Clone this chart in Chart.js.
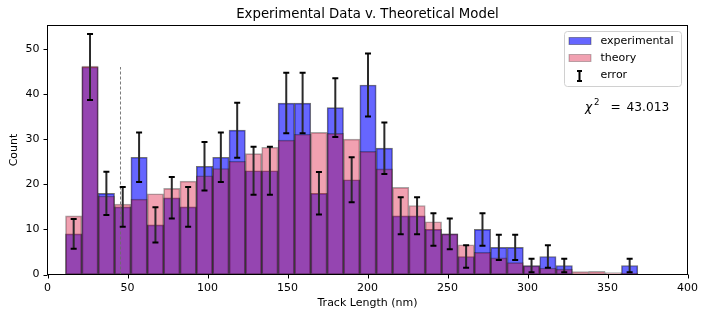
<!DOCTYPE html>
<html><head><meta charset="utf-8">
<script src="https://cdn.jsdelivr.net/npm/chart.js@4.4.0/dist/chart.umd.min.js"></script>
<style>html,body{margin:0;padding:0;background:#fff;overflow:hidden;} #wrap{width:705px;height:318px;}</style>
</head><body><div id="wrap"><canvas id="c" width="705" height="318"></canvas></div>
<script>
// ---- data ----
const binCenters = [16.36, 26.58, 36.80, 47.02, 57.24, 67.46, 77.68, 87.90, 98.12, 108.34,
  118.56, 128.78, 139.00, 149.22, 159.44, 169.66, 179.88, 190.10, 200.32, 210.54,
  220.76, 230.98, 241.20, 251.42, 261.64, 271.86, 282.08, 292.30, 302.52, 312.74,
  322.96, 333.18, 343.40, 353.62, 363.84];
const experimental = [9, 46, 18, 15, 26, 11, 17, 15, 24, 26,
  32, 23, 23, 38, 38, 18, 37, 21, 42, 28,
  13, 13, 10, 9, 4, 10, 6, 6, 2, 4,
  2, 0, 0, 0, 2];
const theory = [13.0, 46.2, 17.4, 15.6, 16.7, 17.9, 19.1, 20.7, 21.9, 23.5,
  25.1, 26.8, 28.2, 29.8, 31.1, 31.5, 31.3, 30.0, 27.3, 23.4,
  19.3, 15.3, 11.7, 9.0, 6.6, 4.9, 3.7, 2.65, 1.9, 1.45,
  1.2, 0.65, 0.7, 0.45, 0.3];
const errors = [3.3, 7.3, 4.8, 4.4, 5.5, 3.9, 4.6, 4.4, 5.4, 5.5,
  6.1, 5.3, 5.3, 6.7, 6.7, 4.7, 6.5, 5.0, 7.0, 5.7,
  4.1, 4.1, 3.6, 3.4, 2.5, 3.6, 2.8, 2.8, 1.5, 2.5,
  1.5, 0, 0, 0, 1.5];
const xTicks = [0, 50, 100, 150, 200, 250, 300, 350, 400];
const yTicks = [0, 10, 20, 30, 40, 50];
const cutoffX = 45;
const cutoffHeight = 46;
const chiSquaredText = "43.013";
const titleText = "Experimental Data v. Theoretical Model";

// ---- chart ----
const FONT = "'DejaVu Sans', sans-serif";
Chart.defaults.font.family = FONT;
Chart.defaults.font.size = 11;
Chart.defaults.color = '#000';

const overlay = {
  id: 'overlay',
  afterDatasetsDraw(chart) {
    const ctx = chart.ctx;
    const xs = chart.scales.x, ys = chart.scales.y;
    const area = chart.chartArea;
    ctx.save();
    // dashed cutoff line
    ctx.strokeStyle = 'rgba(110,110,110,0.9)';
    ctx.lineWidth = 1;
    ctx.setLineDash([3, 2]);
    const cx = Math.round(xs.getPixelForValue(cutoffX)) + 0.5;
    ctx.beginPath();
    ctx.moveTo(cx, ys.getPixelForValue(0));
    ctx.lineTo(cx, ys.getPixelForValue(cutoffHeight));
    ctx.stroke();
    ctx.setLineDash([]);
    // error bars
    for (let i = 0; i < binCenters.length; i++) {
      const e = errors[i];
      if (!e) continue;
      const x = xs.getPixelForValue(binCenters[i]);
      const yt = ys.getPixelForValue(experimental[i] + e);
      const yb = ys.getPixelForValue(Math.max(0, experimental[i] - e));
      ctx.strokeStyle = '#2a2a2a';
      ctx.lineWidth = 2;
      ctx.beginPath(); ctx.moveTo(x, yt); ctx.lineTo(x, yb); ctx.stroke();
      ctx.strokeStyle = '#000';
      ctx.lineWidth = 2;
      ctx.beginPath();
      ctx.moveTo(x - 3, yt); ctx.lineTo(x + 3, yt);
      ctx.moveTo(x - 3, yb); ctx.lineTo(x + 3, yb);
      ctx.stroke();
    }
    // frame
    ctx.strokeStyle = '#000';
    ctx.lineWidth = 1;
    ctx.strokeRect(area.left, area.top, area.right - area.left, area.bottom - area.top);
    // tick marks
    ctx.beginPath();
    xTicks.forEach(v => {
      const px = Math.round(xs.getPixelForValue(v)) + 0.5;
      ctx.moveTo(px, area.bottom); ctx.lineTo(px, area.bottom + 4);
    });
    yTicks.forEach(v => {
      const py = Math.round(ys.getPixelForValue(v)) + 0.5;
      ctx.moveTo(area.left - 4, py); ctx.lineTo(area.left, py);
    });
    ctx.stroke();
    // title
    ctx.fillStyle = '#000';
    ctx.font = "13.3px " + FONT;
    ctx.textAlign = 'center';
    ctx.textBaseline = 'middle';
    ctx.fillText(titleText, (area.left + area.right) / 2, 15);
    // legend
    ctx.beginPath();
    ctx.roundRect(564.5, 31.5, 117, 55, 3);
    ctx.fillStyle = 'rgba(255,255,255,0.8)';
    ctx.fill();
    ctx.strokeStyle = '#d0d0d0';
    ctx.stroke();
    ctx.fillStyle = 'rgba(0,0,255,0.6)';
    ctx.fillRect(569, 37.5, 22, 7);
    ctx.strokeStyle = 'rgba(0,0,0,0.35)';
    ctx.strokeRect(569, 37.5, 22, 7);
    ctx.fillStyle = 'rgba(220,20,60,0.4)';
    ctx.fillRect(569, 54.5, 22, 7);
    ctx.strokeStyle = 'rgba(0,0,0,0.25)';
    ctx.strokeRect(569, 54.5, 22, 7);
    ctx.strokeStyle = '#000';
    ctx.lineWidth = 2;
    ctx.beginPath();
    ctx.moveTo(579.5, 71); ctx.lineTo(579.5, 81);
    ctx.moveTo(577, 71); ctx.lineTo(582, 71);
    ctx.moveTo(577, 81); ctx.lineTo(582, 81);
    ctx.stroke();
    ctx.fillStyle = '#000';
    ctx.font = "11px " + FONT;
    ctx.textAlign = 'left';
    ctx.textBaseline = 'middle';
    ctx.fillText('experimental', 600.5, 41);
    ctx.fillText('theory', 600.5, 58);
    ctx.fillText('error', 600.5, 75.5);
    // chi squared
    ctx.textBaseline = 'alphabetic';
    ctx.font = "italic 12.2px " + FONT;
    ctx.fillText('\u03C7', 585, 111);
    ctx.font = "8.6px " + FONT;
    ctx.fillText('2', 594, 105);
    ctx.font = "12.2px " + FONT;
    ctx.fillText('=', 610.5, 111);
    ctx.fillText(chiSquaredText, 626.5, 111);
    ctx.restore();
  }
};

const commonBar = { borderWidth: 1, borderSkipped: false, grouped: false, barPercentage: 1, categoryPercentage: 1 };

new Chart(document.getElementById('c'), {
  type: 'bar',
  data: {
    datasets: [
      Object.assign({
        label: 'experimental',
        data: binCenters.map((x, i) => ({ x: x, y: experimental[i] })),
        backgroundColor: 'rgba(0,0,255,0.6)',
        borderColor: 'rgba(0,0,0,0.55)',
        order: 2
      }, commonBar),
      Object.assign({
        label: 'theory',
        data: binCenters.map((x, i) => ({ x: x, y: theory[i] })),
        backgroundColor: 'rgba(220,20,60,0.4)',
        borderColor: 'rgba(0,0,0,0.35)',
        order: 1
      }, commonBar)
    ]
  },
  options: {
    responsive: false,
    animation: false,
    devicePixelRatio: 1,
    layout: { padding: { left: 0, right: 17.5, top: 25.5, bottom: 0 } },
    plugins: { legend: { display: false }, tooltip: { enabled: false }, title: { display: false } },
    scales: {
      x: {
        type: 'linear', min: 0, max: 400, offset: false,
        afterBuildTicks: s => { s.ticks = xTicks.map(v => ({ value: v })); },
        grid: { display: false, drawTicks: true, tickLength: 4 },
        border: { display: false },
        ticks: { padding: 3, color: '#000', maxRotation: 0, autoSkip: false, font: { size: 11 } },
        title: { display: true, text: 'Track Length (nm)', color: '#000', font: { size: 11 }, padding: { top: 0, bottom: 8.4 } },
        afterFit: s => { s.height = 318 - 274.5; }
      },
      y: {
        type: 'linear', min: 0, max: 55.2,
        afterBuildTicks: s => { s.ticks = yTicks.map(v => ({ value: v })); },
        grid: { display: false, drawTicks: true, tickLength: 4 },
        border: { display: false },
        ticks: { padding: 4, color: '#000', font: { size: 11 } },
        title: { display: true, text: 'Count', color: '#000', font: { size: 11 }, padding: { top: 7.5, bottom: 0 } },
        afterFit: s => { s.width = 47.5; }
      }
    }
  },
  plugins: [overlay]
});
</script>
</body></html>
